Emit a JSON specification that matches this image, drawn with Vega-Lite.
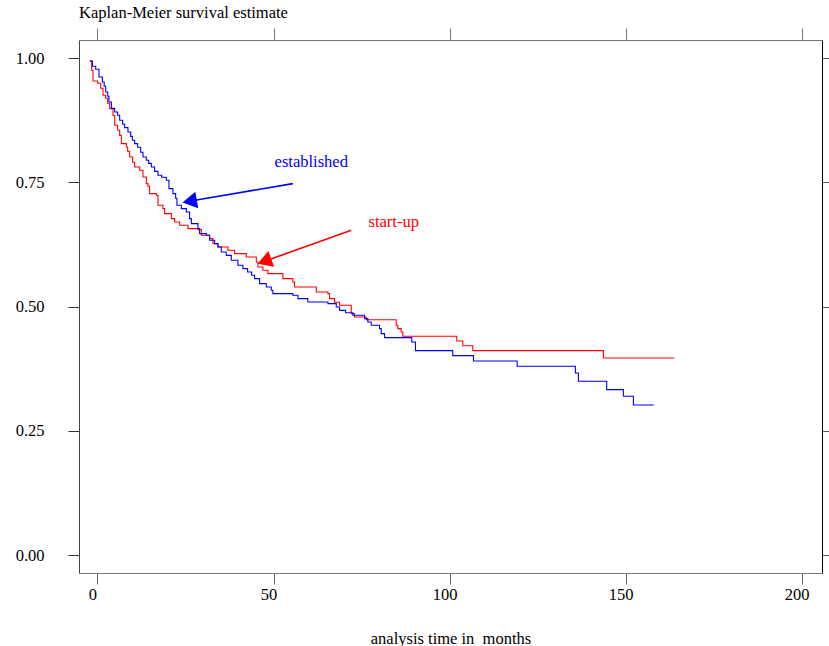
{
  "$schema": "https://vega.github.io/schema/vega-lite/v6.json",
  "width": 743,
  "height": 533,
  "autosize": "none",
  "padding": {"left": 79, "top": 40, "right": 7, "bottom": 73},
  "title": {"text": "Kaplan-Meier survival estimate", "anchor": "start", "frame": "group", "font": "Liberation Serif", "fontSize": 16.5, "fontWeight": "normal", "color": "#000", "baseline": "alphabetic", "offset": -7},
  "config": {
    "view": {"stroke": null},
    "font": "Liberation Serif",
    "axis": {"grid": false, "labelFont": "Liberation Serif", "labelFontSize": 16.5, "labelColor": "#000", "titleFont": "Liberation Serif", "titleFontSize": 16.5, "titleFontWeight": "normal", "titleColor": "#000"}
  },
  "datasets": {
    "km": [
      {"group": "established", "t": -2.21, "s": 0.9940},
      {"group": "established", "t": -1.45, "s": 0.9833},
      {"group": "established", "t": -0.51, "s": 0.9773},
      {"group": "established", "t": 0.43, "s": 0.9618},
      {"group": "established", "t": 1.39, "s": 0.9517},
      {"group": "established", "t": 1.90, "s": 0.9431},
      {"group": "established", "t": 2.33, "s": 0.9316},
      {"group": "established", "t": 2.90, "s": 0.9230},
      {"group": "established", "t": 3.26, "s": 0.9115},
      {"group": "established", "t": 3.95, "s": 0.8988},
      {"group": "established", "t": 4.88, "s": 0.8914},
      {"group": "established", "t": 5.73, "s": 0.8848},
      {"group": "established", "t": 6.30, "s": 0.8747},
      {"group": "established", "t": 7.15, "s": 0.8667},
      {"group": "established", "t": 7.72, "s": 0.8600},
      {"group": "established", "t": 8.66, "s": 0.8512},
      {"group": "established", "t": 9.43, "s": 0.8425},
      {"group": "established", "t": 9.91, "s": 0.8345},
      {"group": "established", "t": 10.56, "s": 0.8279},
      {"group": "established", "t": 11.41, "s": 0.8204},
      {"group": "established", "t": 12.26, "s": 0.8104},
      {"group": "established", "t": 12.92, "s": 0.8009},
      {"group": "established", "t": 13.88, "s": 0.7943},
      {"group": "established", "t": 14.54, "s": 0.7882},
      {"group": "established", "t": 15.30, "s": 0.7808},
      {"group": "established", "t": 16.24, "s": 0.7721},
      {"group": "established", "t": 17.18, "s": 0.7641},
      {"group": "established", "t": 18.23, "s": 0.7601},
      {"group": "established", "t": 19.56, "s": 0.7541},
      {"group": "established", "t": 20.30, "s": 0.7374},
      {"group": "established", "t": 21.43, "s": 0.7273},
      {"group": "established", "t": 22.20, "s": 0.7179},
      {"group": "established", "t": 22.57, "s": 0.7038},
      {"group": "established", "t": 23.82, "s": 0.6972},
      {"group": "established", "t": 25.24, "s": 0.6903},
      {"group": "established", "t": 26.17, "s": 0.6770},
      {"group": "established", "t": 26.66, "s": 0.6670},
      {"group": "established", "t": 28.53, "s": 0.6569},
      {"group": "established", "t": 29.01, "s": 0.6469},
      {"group": "established", "t": 30.92, "s": 0.6435},
      {"group": "established", "t": 31.85, "s": 0.6334},
      {"group": "established", "t": 33.27, "s": 0.6268},
      {"group": "established", "t": 34.21, "s": 0.6199},
      {"group": "established", "t": 35.17, "s": 0.6099},
      {"group": "established", "t": 36.59, "s": 0.6032},
      {"group": "established", "t": 38.01, "s": 0.5932},
      {"group": "established", "t": 39.89, "s": 0.5831},
      {"group": "established", "t": 41.31, "s": 0.5765},
      {"group": "established", "t": 42.64, "s": 0.5697},
      {"group": "established", "t": 43.78, "s": 0.5630},
      {"group": "established", "t": 44.63, "s": 0.5564},
      {"group": "established", "t": 46.05, "s": 0.5463},
      {"group": "established", "t": 47.95, "s": 0.5395},
      {"group": "established", "t": 49.37, "s": 0.5329},
      {"group": "established", "t": 49.82, "s": 0.5262},
      {"group": "established", "t": 55.50, "s": 0.5228},
      {"group": "established", "t": 56.92, "s": 0.5162},
      {"group": "established", "t": 59.76, "s": 0.5094},
      {"group": "established", "t": 65.44, "s": 0.5061},
      {"group": "established", "t": 67.82, "s": 0.4993},
      {"group": "established", "t": 68.76, "s": 0.4926},
      {"group": "established", "t": 70.46, "s": 0.4876},
      {"group": "established", "t": 72.53, "s": 0.4826},
      {"group": "established", "t": 75.86, "s": 0.4760},
      {"group": "established", "t": 76.79, "s": 0.4691},
      {"group": "established", "t": 77.76, "s": 0.4625},
      {"group": "established", "t": 80.11, "s": 0.4558},
      {"group": "established", "t": 80.60, "s": 0.4458},
      {"group": "established", "t": 81.53, "s": 0.4378},
      {"group": "established", "t": 89.28, "s": 0.4289},
      {"group": "established", "t": 90.33, "s": 0.4116},
      {"group": "established", "t": 100.92, "s": 0.4016},
      {"group": "established", "t": 106.80, "s": 0.3907},
      {"group": "established", "t": 119.21, "s": 0.3801},
      {"group": "established", "t": 135.75, "s": 0.3666},
      {"group": "established", "t": 136.61, "s": 0.3499},
      {"group": "established", "t": 144.64, "s": 0.3332},
      {"group": "established", "t": 149.38, "s": 0.3197},
      {"group": "established", "t": 152.22, "s": 0.3022},
      {"group": "established", "t": 157.99, "s": 0.3022},
      {"group": "start-up", "t": -2.21, "s": 0.9940},
      {"group": "start-up", "t": -1.65, "s": 0.9753},
      {"group": "start-up", "t": -1.28, "s": 0.9537},
      {"group": "start-up", "t": 0.06, "s": 0.9491},
      {"group": "start-up", "t": 0.91, "s": 0.9391},
      {"group": "start-up", "t": 1.56, "s": 0.9250},
      {"group": "start-up", "t": 2.33, "s": 0.9190},
      {"group": "start-up", "t": 2.90, "s": 0.9089},
      {"group": "start-up", "t": 3.46, "s": 0.8982},
      {"group": "start-up", "t": 4.40, "s": 0.8848},
      {"group": "start-up", "t": 4.88, "s": 0.8647},
      {"group": "start-up", "t": 5.73, "s": 0.8546},
      {"group": "start-up", "t": 6.30, "s": 0.8445},
      {"group": "start-up", "t": 6.78, "s": 0.8279},
      {"group": "start-up", "t": 8.20, "s": 0.8210},
      {"group": "start-up", "t": 8.57, "s": 0.8124},
      {"group": "start-up", "t": 9.14, "s": 0.8009},
      {"group": "start-up", "t": 9.99, "s": 0.7903},
      {"group": "start-up", "t": 10.56, "s": 0.7808},
      {"group": "start-up", "t": 11.98, "s": 0.7742},
      {"group": "start-up", "t": 12.92, "s": 0.7607},
      {"group": "start-up", "t": 13.88, "s": 0.7474},
      {"group": "start-up", "t": 14.34, "s": 0.7420},
      {"group": "start-up", "t": 14.82, "s": 0.7273},
      {"group": "start-up", "t": 16.72, "s": 0.7239},
      {"group": "start-up", "t": 17.18, "s": 0.7038},
      {"group": "start-up", "t": 18.59, "s": 0.6972},
      {"group": "start-up", "t": 19.08, "s": 0.6871},
      {"group": "start-up", "t": 20.98, "s": 0.6770},
      {"group": "start-up", "t": 21.93, "s": 0.6702},
      {"group": "start-up", "t": 23.34, "s": 0.6636},
      {"group": "start-up", "t": 25.69, "s": 0.6569},
      {"group": "start-up", "t": 28.53, "s": 0.6549},
      {"group": "start-up", "t": 29.50, "s": 0.6435},
      {"group": "start-up", "t": 31.85, "s": 0.6368},
      {"group": "start-up", "t": 32.79, "s": 0.6268},
      {"group": "start-up", "t": 34.21, "s": 0.6199},
      {"group": "start-up", "t": 37.05, "s": 0.6133},
      {"group": "start-up", "t": 38.95, "s": 0.6067},
      {"group": "start-up", "t": 42.27, "s": 0.5998},
      {"group": "start-up", "t": 45.11, "s": 0.5898},
      {"group": "start-up", "t": 45.56, "s": 0.5797},
      {"group": "start-up", "t": 46.98, "s": 0.5731},
      {"group": "start-up", "t": 48.40, "s": 0.5665},
      {"group": "start-up", "t": 52.66, "s": 0.5564},
      {"group": "start-up", "t": 55.50, "s": 0.5496},
      {"group": "start-up", "t": 55.98, "s": 0.5395},
      {"group": "start-up", "t": 62.16, "s": 0.5295},
      {"group": "start-up", "t": 65.44, "s": 0.5262},
      {"group": "start-up", "t": 65.93, "s": 0.5162},
      {"group": "start-up", "t": 67.34, "s": 0.5087},
      {"group": "start-up", "t": 68.76, "s": 0.5027},
      {"group": "start-up", "t": 72.08, "s": 0.4860},
      {"group": "start-up", "t": 73.01, "s": 0.4792},
      {"group": "start-up", "t": 76.34, "s": 0.4736},
      {"group": "start-up", "t": 84.85, "s": 0.4625},
      {"group": "start-up", "t": 85.31, "s": 0.4558},
      {"group": "start-up", "t": 86.27, "s": 0.4490},
      {"group": "start-up", "t": 86.73, "s": 0.4404},
      {"group": "start-up", "t": 102.06, "s": 0.4310},
      {"group": "start-up", "t": 103.76, "s": 0.4213},
      {"group": "start-up", "t": 106.60, "s": 0.4116},
      {"group": "start-up", "t": 143.70, "s": 0.3967},
      {"group": "start-up", "t": 163.85, "s": 0.3967}
    ],
    "arrows": [
      {"group": "established", "t": 55.50, "s": 0.7474, "t2": 26.86, "s2": 0.7130},
      {"group": "start-up", "t": 72.08, "s": 0.6535, "t2": 48.06, "s2": 0.5928}
    ],
    "heads": [
      {"group": "established", "t": 26.86, "s": 0.7130},
      {"group": "start-up", "t": 48.06, "s": 0.5928}
    ],
    "labels": [
      {"group": "established", "t": 50.31, "s": 0.7802},
      {"group": "start-up", "t": 76.98, "s": 0.6595}
    ]
  },
  "layer": [
    {
      "data": {"name": "km"},
      "transform": [{"filter": "datum.group === 'start-up'"}],
      "mark": {"type": "line", "interpolate": "step-after", "strokeWidth": 1.1},
      "encoding": {
        "x": {"field": "t", "type": "quantitative", "scale": {"domain": [-5.25, 205.8], "nice": false, "zero": false},
          "axis": {"orient": "bottom", "values": [0, 50, 100, 150, 200], "title": "analysis time in \u00a0months", "titleBaseline": "alphabetic", "titleY": 70, "tickSize": 11, "tickColor": "#666", "domainColor": "#777", "labelPadding": 2, "labelOffset": -5, "labelFlush": false}},
        "y": {"field": "s", "type": "quantitative", "scale": {"domain": [-0.0356, 1.0362], "nice": false, "zero": false},
          "axis": {"orient": "left", "values": [0, 0.25, 0.5, 0.75, 1], "format": ".2f", "title": null, "tickSize": 11, "tickColor": "#333", "domainColor": "#444", "labelPadding": 24, "labelFlush": false}},
        "color": {"field": "group", "type": "nominal", "scale": {"domain": ["established", "start-up"], "range": ["#0000ff", "#ff0000"]}, "legend": null}
      }
    },
    {
      "data": {"name": "km"},
      "transform": [{"filter": "datum.group === 'established'"}],
      "mark": {"type": "line", "interpolate": "step-after", "strokeWidth": 1.1},
      "encoding": {
        "x": {"field": "t", "type": "quantitative", "scale": {"domain": [-5.25, 205.8], "nice": false, "zero": false},
          "axis": {"orient": "top", "values": [0, 50, 100, 150, 200], "labels": false, "title": null, "tickSize": 12, "tickColor": "#777", "domainColor": "#777"}},
        "y": {"field": "s", "type": "quantitative", "scale": {"domain": [-0.0356, 1.0362], "nice": false, "zero": false},
          "axis": {"orient": "right", "values": [0, 0.25, 0.5, 0.75, 1], "labels": false, "title": null, "tickSize": 7, "tickColor": "#555", "domainColor": "#000"}},
        "color": {"field": "group", "type": "nominal", "scale": {"domain": ["established", "start-up"], "range": ["#0000ff", "#ff0000"]}, "legend": null}
      }
    },
    {
      "data": {"name": "arrows"},
      "mark": {"type": "rule", "strokeWidth": 1.6},
      "encoding": {
        "x": {"field": "t", "type": "quantitative", "scale": {"domain": [-5.25, 205.8], "nice": false, "zero": false}, "axis": null},
        "y": {"field": "s", "type": "quantitative", "scale": {"domain": [-0.0356, 1.0362], "nice": false, "zero": false}, "axis": null},
        "x2": {"field": "t2"},
        "y2": {"field": "s2"},
        "color": {"field": "group", "type": "nominal", "scale": {"domain": ["established", "start-up"], "range": ["#0000ff", "#ff0000"]}, "legend": null}
      }
    },
    {
      "data": {"name": "heads"},
      "mark": {"type": "point", "shape": "triangle", "filled": true, "opacity": 1, "size": 280},
      "encoding": {
        "x": {"field": "t", "type": "quantitative", "scale": {"domain": [-5.25, 205.8], "nice": false, "zero": false}, "axis": null},
        "y": {"field": "s", "type": "quantitative", "scale": {"domain": [-0.0356, 1.0362], "nice": false, "zero": false}, "axis": null},
        "angle": {"field": "group", "type": "nominal", "scale": {"domain": ["established", "start-up"], "range": [260, 250]}, "legend": null},
        "color": {"field": "group", "type": "nominal", "scale": {"domain": ["established", "start-up"], "range": ["#0000ff", "#ff0000"]}, "legend": null}
      }
    },
    {
      "data": {"name": "labels"},
      "mark": {"type": "text", "align": "left", "baseline": "alphabetic", "font": "Liberation Serif", "fontSize": 16.5},
      "encoding": {
        "x": {"field": "t", "type": "quantitative", "scale": {"domain": [-5.25, 205.8], "nice": false, "zero": false}, "axis": null},
        "y": {"field": "s", "type": "quantitative", "scale": {"domain": [-0.0356, 1.0362], "nice": false, "zero": false}, "axis": null},
        "text": {"field": "group"},
        "color": {"field": "group", "type": "nominal", "scale": {"domain": ["established", "start-up"], "range": ["#0000ff", "#ff0000"]}, "legend": null}
      }
    }
  ],
  "resolve": {"axis": {"x": "independent", "y": "independent"}}
}
